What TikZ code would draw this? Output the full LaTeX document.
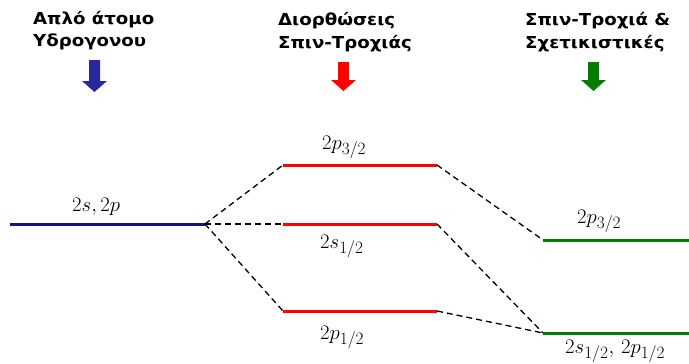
\documentclass[tikz,border=0pt]{standalone}
\usepackage{fontspec}
\newfontfamily\titlefont{DejaVu Sans}
\newcommand{\ttl}[1]{\scalebox{1.1}[1]{\titlefont\bfseries\fontsize{16.5}{18}\selectfont #1}}
\DeclareMathSizes{21}{21}{18.5}{15}
\definecolor{lvblue}{RGB}{20,20,130}
\definecolor{arblue}{RGB}{40,40,155}
\definecolor{lvred}{RGB}{255,0,0}
\definecolor{lvgreen}{RGB}{0,125,0}
\tikzset{
  title/.style={anchor=base west, inner sep=0pt},
  lbl/.style={anchor=base west, inner sep=0pt, font=\fontsize{21}{24}\selectfont},
  level/.style={line width=3pt},
  link/.style={line width=1.3pt, dash pattern=on 6pt off 4pt},
}
\begin{document}
\begin{tikzpicture}[x=1pt,y=-1pt]
\useasboundingbox (0,0) rectangle (689,364);
% titles
\node[title] (t1a) at (33,24) {\ttl{Απλό άτομο}};
\node[title] (t1b) at (33,46) {\ttl{Υδρογονου}};
\node[title] (t2a) at (278,25) {\ttl{Διορθώσεις}};
\node[title] (t2b) at (278,48) {\ttl{Σπιν-Τροχιάς}};
\node[title] (t3a) at (525,25) {\ttl{Σπιν-Τροχιά \&}};
\node[title] (t3b) at (525,48) {\ttl{Σχετικιστικές}};
% arrows
\fill[arblue] (89,60) -- (100,60) -- (100,81) -- (107,81) -- (94.5,92) -- (82,81) -- (89,81) -- cycle;
\fill[lvred] (338,62) -- (349,62) -- (349,80) -- (356,80) -- (343.5,91) -- (331,80) -- (338,80) -- cycle;
\fill[lvgreen] (588,62) -- (599,62) -- (599,80) -- (606,80) -- (593.5,91) -- (581,80) -- (588,80) -- cycle;
% level coordinates
\coordinate (bL) at (10,224);
\coordinate (bR) at (205,224);
\coordinate (r1L) at (283,165);
\coordinate (r1R) at (437,165);
\coordinate (r2L) at (283,224);
\coordinate (r2R) at (437,224);
\coordinate (r3L) at (283,311);
\coordinate (r3R) at (437,311);
\coordinate (g1L) at (543,240);
\coordinate (g1R) at (689,240);
\coordinate (g2L) at (543,333);
\coordinate (g2R) at (689,333);
% levels
\draw[level, lvblue] (bL) -- (bR);
\draw[level, lvred] (r1L) -- (r1R);
\draw[level, lvred] (r2L) -- (r2R);
\draw[level, lvred] (r3L) -- (r3R);
\draw[level, lvgreen] (g1L) -- (g1R);
\draw[level, lvgreen] (g2L) -- (g2R);
% links
\draw[link] (bR) -- (r1L);
\draw[link] (bR) -- (r2L);
\draw[link] (bR) -- (r3L);
\draw[link] (r1R) -- (g1L);
\draw[link] (r2R) -- (g2L);
\draw[link] (r3R) -- (g2L);
% labels
\node[lbl] (lb) at (72,211) {$2s, 2p$};
\node[lbl] (lr1) at (322,149) {$2p_{3/2}$};
\node[lbl] (lr2) at (320,248) {$2s_{1/2}$};
\node[lbl] (lr3) at (320,339) {$2p_{1/2}$};
\node[lbl] (lg1) at (577,223) {$2p_{3/2}$};
\node[lbl] (lg2) at (565,353) {$2s_{1/2},\, 2p_{1/2}$};
\end{tikzpicture}
\end{document}
